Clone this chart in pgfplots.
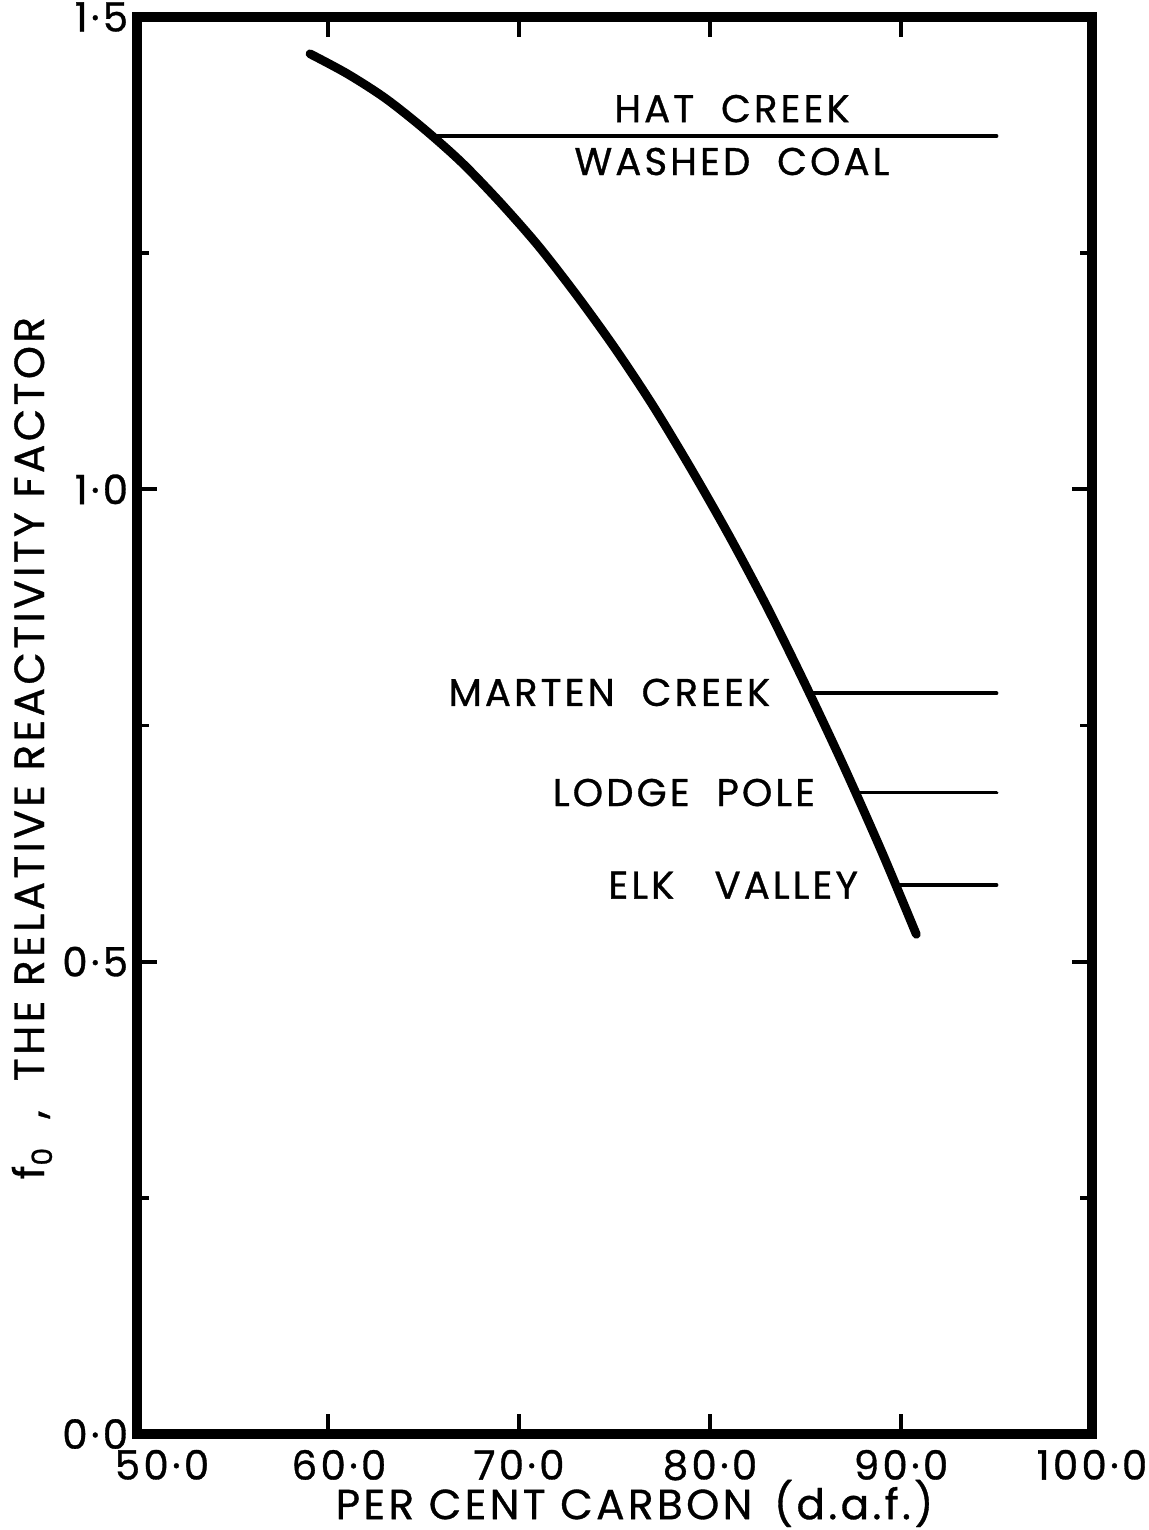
\documentclass[border=0pt]{standalone}
\usepackage{fontspec}
\usepackage{pgfplots}
\pgfplotsset{compat=1.18}
\setmainfont{Poppins}[LetterSpace=8, FakeBold=0.8]

\begin{document}
\begin{tikzpicture}
\begin{axis}[
    scale only axis, width=9.55cm, height=14.17cm,
    xmin=50, xmax=100, ymin=0, ymax=1.5,
    axis line style={line width=2.8pt, line join=miter},
    tick style={black, line width=1.1pt},
    tick align=inside, xtick pos=both, ytick pos=both,
    major tick length=0.2cm, minor tick length=0.12cm,
    xtick={50,60,70,80,90,100},
    xticklabels={\hspace{0.5cm}50·0, \hspace{0.22cm}60·0, 70·0, 80·0, 90·0, 100·0},
    ytick={0,0.5,1,1.5}, minor ytick={0.25,0.75,1.25},
    yticklabels={0·0, 0·5, 1·0, 1·5},
    ticklabel style={font=\fontsize{11.5}{12}\selectfont},
    xticklabel style={yshift=-1pt},
    yticklabel style={xshift=1pt},
    xlabel={PER CENT CARBON \,(d.a.f.)},
    ylabel={f\raisebox{-0.35ex}{\footnotesize 0}\ \ ,\ \ THE RELATIVE REACTIVITY FACTOR},
    every axis x label/.style={at={(axis description cs:0.521,-0.049)}, anchor=center},
    every axis y label/.style={at={(axis description cs:-0.11,0.484)}, anchor=center, rotate=90},
    label style={font=\fontsize{12}{13}\selectfont},
    clip=false,
]
  \coordinate (sw) at (rel axis cs:0,0);
  \coordinate (ne) at (rel axis cs:1,1);
  % curve
  \addplot[black, line width=2.5pt, smooth, line cap=round] coordinates {
    (59.06,1.461) (61,1.440) (63,1.414) (65,1.382) (67,1.346) (69,1.304)
    (71,1.258) (73,1.206) (75,1.150) (77,1.089) (79,1.022) (81,0.951)
    (83,0.875) (85,0.793) (87,0.707) (89,0.616) (90.8,0.529)};
  % coal markers
  \addplot[black, line width=1.1pt, line cap=round] coordinates {(65.5,1.374) (95.0,1.374)};
  \addplot[black, line width=1.1pt, line cap=round] coordinates {(85.2,0.784) (95.0,0.784)};
  \addplot[black, line width=1.1pt, line cap=round] coordinates {(87.6,0.679) (95.0,0.679)};
  \addplot[black, line width=1.1pt, line cap=round] coordinates {(89.7,0.581) (95.0,0.581)};

  \begin{scope}[font=\fontsize{11}{13}\selectfont]
  \node at (axis cs:81.15,1.403) {HAT \ CREEK};
  \node at (axis cs:81.15,1.347) {WASHED \ COAL};
  \node[anchor=east] at (axis cs:83.8,0.785) {MARTEN \ CREEK};
  \node[anchor=east] at (axis cs:86.15,0.679) {LODGE \ POLE};
  \node[anchor=east] at (axis cs:88.4,0.581) {ELK \ \ VALLEY};
  \end{scope}
\end{axis}
\pgfresetboundingbox
\path[use as bounding box] ([xshift=-1.37cm, yshift=-0.96cm]sw) rectangle ([xshift=0.57cm, yshift=0.17cm]ne);
\end{tikzpicture}
\end{document}
